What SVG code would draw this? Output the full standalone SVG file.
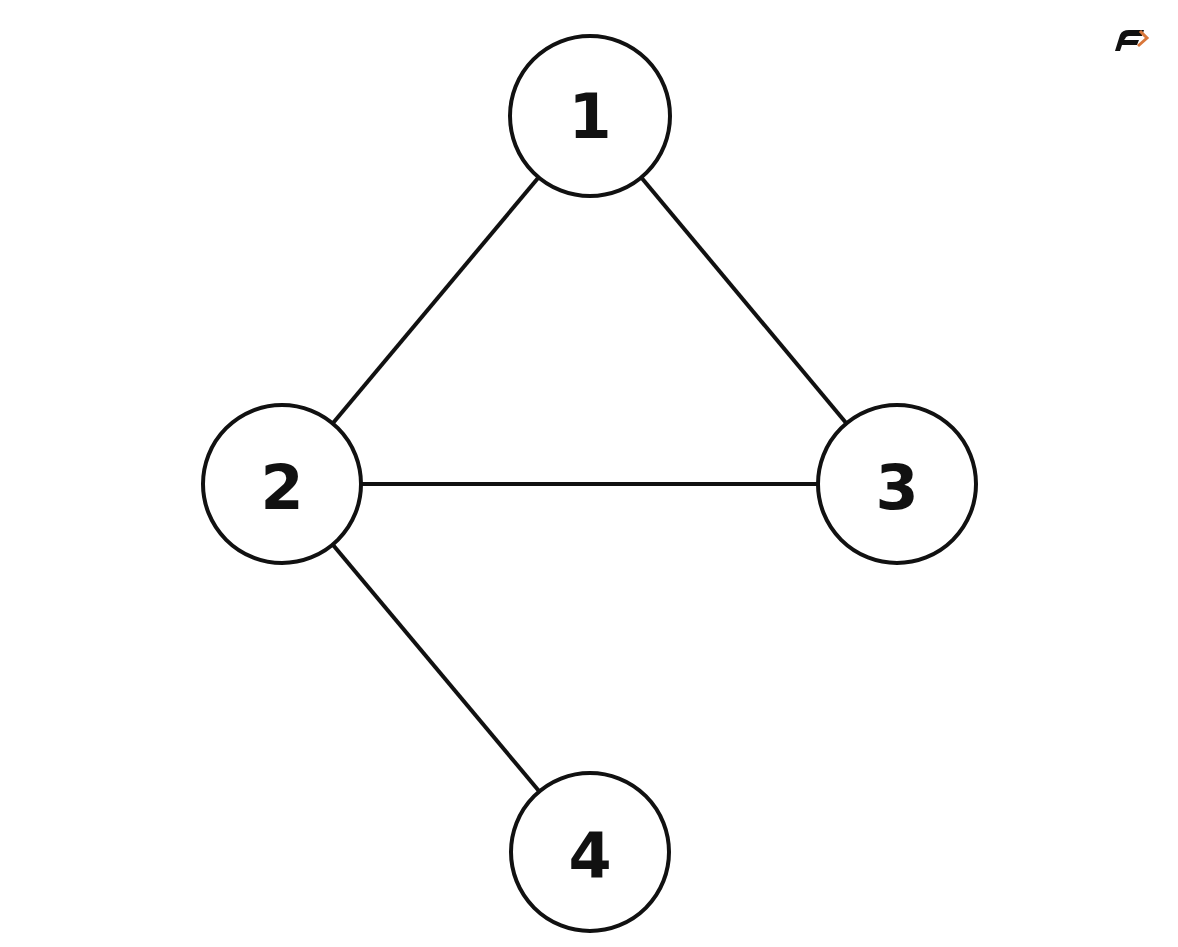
<svg xmlns="http://www.w3.org/2000/svg" width="1178" height="947" viewBox="0 0 1178 947">
<style>
.n{fill:#fff;stroke:#111;stroke-width:4}
.e{stroke:#111;stroke-width:4;fill:none}
.t{font-family:"DejaVu Sans","Liberation Sans",sans-serif;font-weight:bold;font-size:62px;fill:#111;text-anchor:middle;dominant-baseline:central}
</style>
<rect width="1178" height="947" fill="#fff"/>
<g id="logo">
<path d="M1115 51 L1120 35 Q1122 30 1129 30 L1144 30 L1142 36 L1129 36 Q1126 36 1125 39 L1124 40 L1139 40 L1137 45 L1122 45 L1120 51 Z" fill="#111"/>
<path d="M1140 31 L1147 38 L1138 46" fill="none" stroke="#d9773a" stroke-width="3"/>
</g>
<g id="edges">
<line class="e" x1="590" y1="116" x2="282" y2="484"/>
<line class="e" x1="590" y1="116" x2="897" y2="484"/>
<line class="e" x1="282" y1="484" x2="897" y2="484"/>
<line class="e" x1="282" y1="484" x2="590" y2="852"/>
</g>
<g id="node1"><circle class="n" cx="590" cy="116" r="80"/><text class="t" x="590" y="116">1</text></g>
<g id="node2"><circle class="n" cx="282" cy="484" r="79"/><text class="t" x="282" y="487">2</text></g>
<g id="node3"><circle class="n" cx="897" cy="484" r="79"/><text class="t" x="897" y="487">3</text></g>
<g id="node4"><circle class="n" cx="590" cy="852" r="79"/><text class="t" x="590" y="855">4</text></g>
</svg>
